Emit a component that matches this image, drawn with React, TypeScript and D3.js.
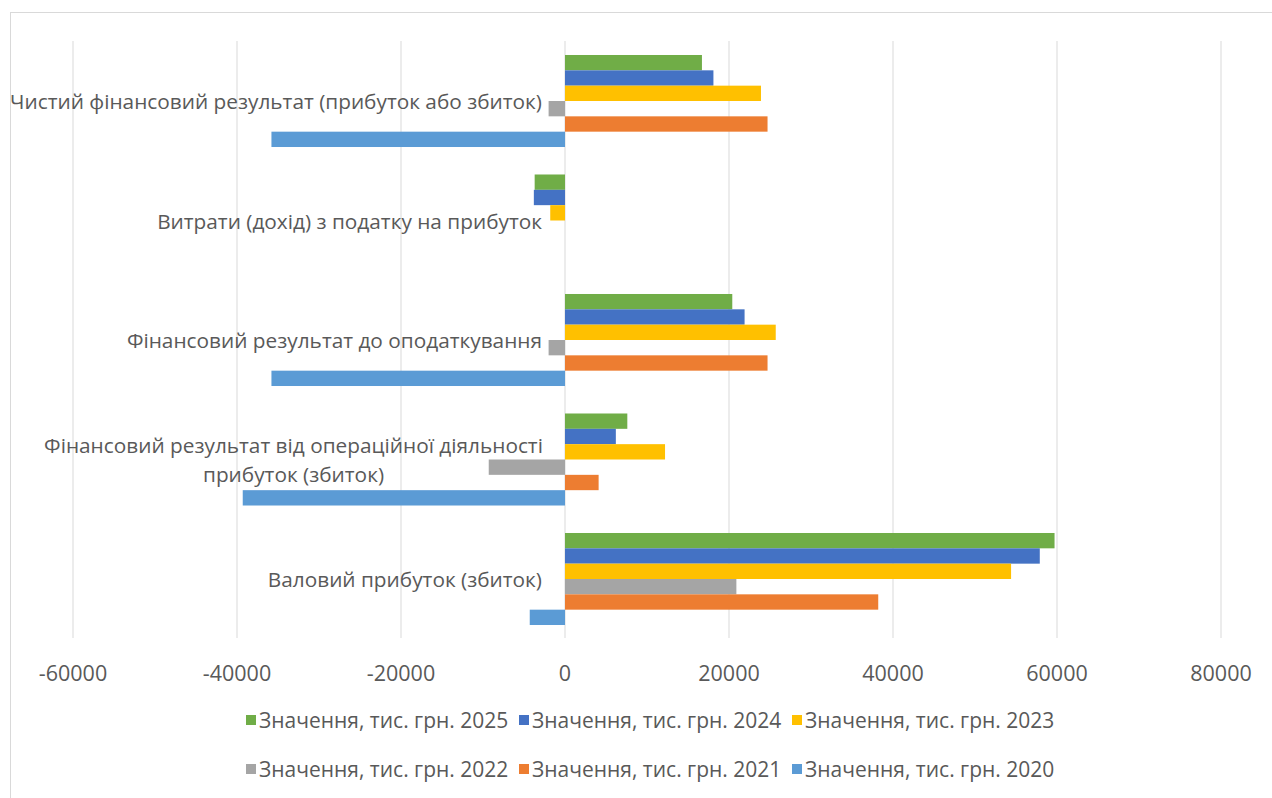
import React from "react";
import * as d3 from "d3";

const categories = [
  ["Чистий фінансовий результат (прибуток або збиток)"],
  ["Витрати (дохід) з податку на прибуток"],
  ["Фінансовий результат до оподаткування"],
  ["Фінансовий результат від операційної діяльності", "прибуток (збиток)"],
  ["Валовий прибуток (збиток)"],
];
const seriesNames = [
  "Значення, тис. грн. 2025",
  "Значення, тис. грн. 2024",
  "Значення, тис. грн. 2023",
  "Значення, тис. грн. 2022",
  "Значення, тис. грн. 2021",
  "Значення, тис. грн. 2020",
];
const seriesColors = ["#70AD47", "#4472C4", "#FFC000", "#A5A5A5", "#ED7D31", "#5B9BD5"];
// values per category (top to bottom) for each series
const v2025 = [16700, -3700, 20400, 7600, 59700];
const v2024 = [18100, -3800, 21900, 6200, 57900];
const v2023 = [23900, -1800, 25700, 12200, 54400];
const v2022 = [-2000, 0, -2000, -9300, 20900];
const v2021 = [24700, 0, 24700, 4100, 38200];
const v2020 = [-35800, 0, -35800, -39300, -4300];
const seriesValues = [v2025, v2024, v2023, v2022, v2021, v2020];
const xTicks = [-60000, -40000, -20000, 0, 20000, 40000, 60000, 80000];

const FONT = "'Open Sans', sans-serif";
const TXT = "#595959";

export default function App() {
  const x = d3.scaleLinear().domain([-60000, 80000]).range([73, 1221]);
  const y0 = d3
    .scaleBand<number>()
    .domain(d3.range(categories.length))
    .range([41.25, 638.75])
    .paddingInner(0.23)
    .paddingOuter(0.115);
  const y1 = d3.scaleBand<number>().domain(d3.range(seriesNames.length)).range([0, y0.bandwidth()]);

  const legendRows = [
    [0, 1, 2],
    [3, 4, 5],
  ];
  const legendX = [246, 519, 792];
  const legendY = [720, 769];

  return (
    <svg
      width={1272}
      height={798}
      style={{ position: "absolute", left: 0, top: 0, background: "#fff" }}
      fontFamily={FONT}
    >
      <rect x={0} y={0} width={1272} height={798} fill="#fff" />
      <rect x={10.5} y={12.5} width={1300} height={820} fill="none" stroke="#d9d9d9" />
      {xTicks.map((t) => (
        <line key={t} x1={x(t)} x2={x(t)} y1={41} y2={638} stroke="#d9d9d9" strokeWidth={1} />
      ))}
      {seriesValues.map((vals, si) =>
        vals.map((v, ci) =>
          v === 0 ? null : (
            <rect
              key={`${si}-${ci}`}
              x={Math.min(x(0), x(v))}
              y={(y0(ci) as number) + (y1(si) as number)}
              width={Math.abs(x(v) - x(0))}
              height={y1.bandwidth()}
              fill={seriesColors[si]}
            />
          )
        )
      )}
      {categories.map((lines, ci) => {
        const cy = (y0(ci) as number) + y0.bandwidth() / 2;
        const lh = 29;
        const startY = cy - ((lines.length - 1) * lh) / 2;
        if (lines.length === 1) {
          return (
            <text key={ci} x={542} y={startY} textAnchor="end" dominantBaseline="central" fontSize={20.8} fill={TXT}>
              {lines[0]}
            </text>
          );
        }
        return (
          <text key={ci} x={293.5} textAnchor="middle" fontSize={20.8} fill={TXT}>
            {lines.map((l, li) => (
              <tspan key={li} x={293.5} y={startY + li * lh} dominantBaseline="central">
                {l}
              </tspan>
            ))}
          </text>
        );
      })}
      {xTicks.map((t) => (
        <text key={t} x={x(t)} y={672} textAnchor="middle" dominantBaseline="central" fontSize={21.5} fill={TXT}>
          {t}
        </text>
      ))}
      {legendRows.map((row, ri) =>
        row.map((si, k) => (
          <g key={si} transform={`translate(${legendX[k]},${legendY[ri]})`}>
            <rect x={0} y={-5} width={10} height={10} fill={seriesColors[si]} />
            <text x={13} y={0} dominantBaseline="central" fontSize={21} fill={TXT}>
              {seriesNames[si]}
            </text>
          </g>
        ))
      )}
    </svg>
  );
}
